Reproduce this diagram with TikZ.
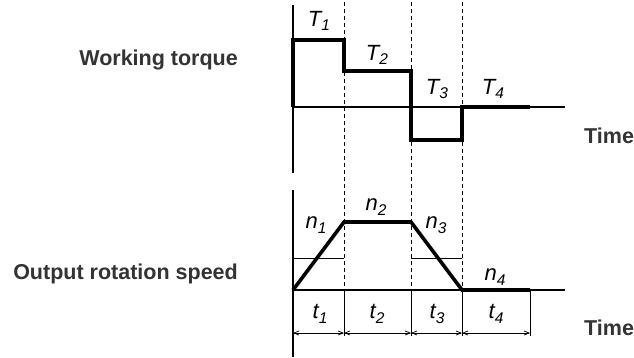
\documentclass[tikz,border=0pt]{standalone}
\usepackage{fontspec}
\setmainfont{Liberation Sans}
\usetikzlibrary{arrows.meta}
\newcommand{\qty}[2]{#1\raisebox{-0.4ex}{\fontsize{15.5}{16}\selectfont#2}}

\begin{document}
\begin{tikzpicture}[x=1pt, y=-1pt,
    axis/.style={line width=1.2pt},
    guide/.style={line width=0.7pt, dashed, dash pattern=on 4pt off 3pt},
    curve/.style={line width=3.6pt, line join=miter},
    thin/.style={line width=0.8pt},
    dim/.style={line width=0.7pt, {Straight Barb[length=5pt,width=4pt]}-{Straight Barb[length=5pt,width=4pt]}},
    title/.style={font=\fontsize{21.5}{24}\selectfont\bfseries, text=black!80, anchor=east, inner sep=0pt},
    timelbl/.style={font=\fontsize{21.5}{24}\selectfont\bfseries, text=black!80, anchor=west, inner sep=0pt},
    val/.style={font=\fontsize{22}{24}\selectfont\itshape, inner sep=0pt}]
    \useasboundingbox (0,0) rectangle (634,358);

    % Titles
    \node[title] (torque) at (238,60) {Working torque};
    \node[title] (speed) at (238,274) {Output rotation speed};
    \node[timelbl] (time1) at (584,136) {Time};
    \node[timelbl] (time2) at (584,328) {Time};

    % Axes
    \draw[axis] (293,5) -- (293,173);
    \draw[axis] (293,107) -- (565,107);
    \draw[axis] (293,190) -- (293,357);
    \draw[axis] (293,290) -- (565,290);

    % Phase boundaries
    \foreach \x in {344,411,462} {
        \draw[guide] (\x,2) -- (\x,290);
        \draw[thin] (\x,290) -- (\x,336);
    }
    \draw[thin] (530,290) -- (530,336);

    % Torque
    \draw[curve] (293,107) -- (293,40) -- (344,40) -- (344,71) -- (411,71)
        -- (411,140) -- (462,140) -- (462,107) -- (530,107);
    \node[val] (T1) at (319,21) {\qty{T}{1}};
    \node[val] (T2) at (377,55) {\qty{T}{2}};
    \node[val] (T3) at (437,89) {\qty{T}{3}};
    \node[val] (T4) at (493,89) {\qty{T}{4}};

    % Speed
    \draw[thin] (293,258) -- (344,258);
    \draw[thin] (411,258) -- (462,258);
    \draw[curve] (293,290) -- (344,222) -- (411,222) -- (462,290) -- (530,290);
    \node[val] (n1) at (316,225) {\qty{n}{1}};
    \node[val] (n2) at (376,207) {\qty{n}{2}};
    \node[val] (n3) at (436,225) {\qty{n}{3}};
    \node[val] (n4) at (495,277) {\qty{n}{4}};

    % Durations
    \coordinate (d0) at (293,333);
    \coordinate (d1) at (344,333);
    \coordinate (d2) at (411,333);
    \coordinate (d3) at (462,333);
    \coordinate (d4) at (530,333);
    \draw[dim] (d0) -- (d1);
    \draw[dim] (d1) -- (d2);
    \draw[dim] (d2) -- (d3);
    \draw[dim] (d3) -- (d4);
    \node[val] (t1) at (320,314) {\qty{t}{1}};
    \node[val] (t2) at (377,314) {\qty{t}{2}};
    \node[val] (t3) at (437,314) {\qty{t}{3}};
    \node[val] (t4) at (496,314) {\qty{t}{4}};
\end{tikzpicture}
\end{document}
